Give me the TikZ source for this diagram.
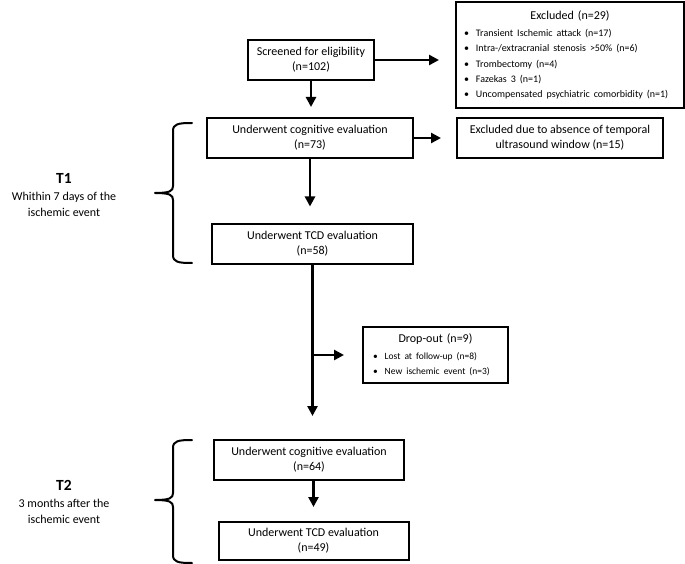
\documentclass[tikz,border=0pt]{standalone}
\usepackage{fontspec}
\setmainfont{Carlito}
\usetikzlibrary{arrows.meta}
\newcommand{\itm}[1]{\textbullet\hspace{7pt}#1}

\begin{document}
\begin{tikzpicture}[x=1pt,y=-1pt,
		font=\fontsize{12}{15}\selectfont,
		box/.style={draw,line width=2pt,align=center,inner sep=0pt},
		listbox/.style={draw,line width=2pt,align=left,inner xsep=8pt,inner ysep=0pt},
		arr/.style={line width=2.6pt,-{Triangle[length=10pt,width=10pt]}},
		brc/.style={line width=2pt,line cap=round,line join=round},
		lbl/.style={align=center,inner sep=0pt,font=\fontsize{12}{16}\selectfont}]
	\useasboundingbox (0,0) rectangle (685,564);
	\node[box,minimum width=126pt,minimum height=40pt] (screen) at (311,60) {Screened for eligibility\\(n=102)};
	\node[listbox,text width=212pt,minimum height=106pt] (excl) at (570,55) {\makebox[212pt]{Excluded (n=29)}\par\vspace{1.5pt}
		\fontsize{10}{15.4}\selectfont
		\itm{Transient Ischemic attack (n=17)}\\
		\itm{Intra-/extracranial stenosis >50\% (n=6)}\\
		\itm{Trombectomy (n=4)}\\
		\itm{Fazekas 3 (n=1)}\\
		\itm{Uncompensated psychiatric comorbidity (n=1)}};
	\node[box,minimum width=206pt,minimum height=40pt] (cogA) at (310,138) {Underwent cognitive evaluation\\(n=73)};
	\node[box,minimum width=206pt,minimum height=40pt] (exclB) at (560,138) {Excluded due to absence of temporal\\ultrasound window (n=15)};
	\node[box,minimum width=201pt,minimum height=40pt] (tcdA) at (312.5,243.5) {Underwent TCD evaluation\\(n=58)};
	\node[listbox,inner xsep=10pt,text width=125pt,minimum height=56pt] (drop) at (435.5,355) {\makebox[125pt]{Drop-out (n=9)}\par\vspace{2pt}
		\fontsize{9.5}{15}\selectfont
		\itm{Lost at follow-up (n=8)}\\
		\itm{New ischemic event (n=3)}};
	\node[box,minimum width=190pt,minimum height=40pt] (cogB) at (309,460) {Underwent cognitive evaluation\\(n=64)};
	\node[box,minimum width=190pt,minimum height=38pt] (tcdB) at (313.5,541) {Underwent TCD evaluation\\(n=49)};

	\draw[arr,shorten >=16pt] (screen.east) -- (screen.east -| excl.west);
	\draw[arr,shorten >=10pt] (screen.south) -- (screen.south |- cogA.north);
	\draw[arr,shorten >=15pt] (cogA.east) -- (cogA.east -| exclB.west);
	\draw[arr,shorten >=16pt] (cogA.south) -- (cogA.south |- tcdA.north);
	\draw[arr,shorten >=23pt] (tcdA.south) -- (tcdA.south |- cogB.north);
	\draw[arr,shorten >=18pt] (tcdA.south |- drop.west) -- (drop.west);
	\draw[arr,shorten >=14pt] (cogB.south -| tcdB.north) -- (tcdB.north);

	\draw[brc] (192,123) .. controls (178,123) and (173,124) .. (173,131) -- (173,186) .. controls (173,191) and (170,193) .. (155,193) .. controls (170,193) and (173,195) .. (173,200) -- (173,255) .. controls (173,262) and (178,263) .. (192,263);
	\draw[brc] (192,440) .. controls (178,440) and (173,441) .. (173,448) -- (173,493) .. controls (173,498) and (170,500) .. (155,500) .. controls (170,500) and (173,502) .. (173,507) -- (173,555) .. controls (173,562) and (178,563) .. (192,563);

	\node[lbl] (lblA) at (64,195) {{\fontsize{15.5}{18}\selectfont\bfseries T1}\\[1pt]Whithin 7 days of the\\ischemic event};
	\node[lbl] (lblB) at (64,502) {{\fontsize{15.5}{18}\selectfont\bfseries T2}\\[1pt]3 months after the\\ischemic event};
\end{tikzpicture}
\end{document}
